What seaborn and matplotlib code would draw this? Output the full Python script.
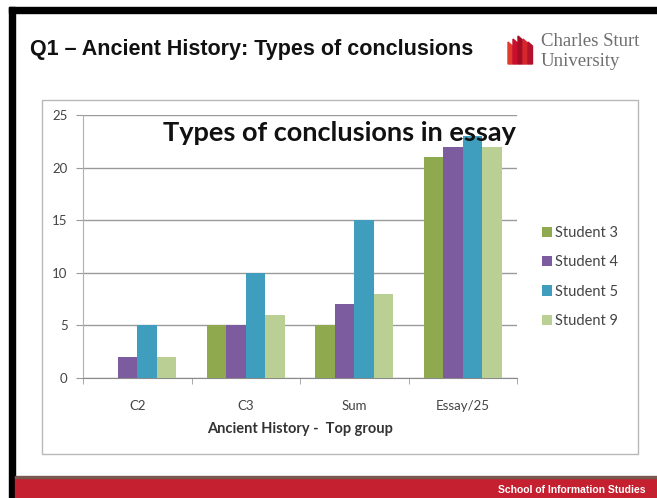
import matplotlib
matplotlib.use("Agg")
import matplotlib.pyplot as plt
from matplotlib.patches import Rectangle, Polygon
from matplotlib.ticker import FixedLocator
import seaborn as sns
import pandas as pd

# data
categories = ["C2", "C3", "Sum", "Essay/25"]
students = ["Student 3", "Student 4", "Student 5", "Student 9"]
student3 = [0, 5, 5, 21]
student4 = [2, 5, 7, 22]
student5 = [5, 10, 15, 23]
student9 = [2, 6, 8, 22]
colors = ["#8fa94e", "#7c5c9e", "#3f9ebd", "#bacf93"]

df = pd.DataFrame({
    "category": categories * 4,
    "student": [s for s in students for _ in categories],
    "value": student3 + student4 + student5 + student9,
})

plt.rcParams["font.family"] = ["Lato", "DejaVu Sans"]

W, H = 657, 498
fig = plt.figure(figsize=(W / 100, H / 100), dpi=100)
fig.patch.set_facecolor("white")


def fx(px):
    return px / W


def fy(py):
    return 1 - py / H


# slide frame: black border top / left, red footer
fig.patches.append(Rectangle((fx(9), fy(13)), 1, fy(7) - fy(13), transform=fig.transFigure,
                             color="black", zorder=0))
fig.patches.append(Rectangle((fx(9), 0), fx(6), fy(7), transform=fig.transFigure,
                             color="black", zorder=0))
fig.patches.append(Rectangle((fx(15), 0), 1, fy(477), transform=fig.transFigure,
                             color="#c4202f", zorder=1))
fig.patches.append(Rectangle((fx(15), fy(478)), 1, fy(476) - fy(478), transform=fig.transFigure,
                             color="#7a5a50", zorder=1))
fig.text(fx(646), fy(490), "School of Information Studies", color="white", fontsize=7.5,
         fontweight="bold", ha="right", va="center", family=["Liberation Sans", "DejaVu Sans"])

# slide title
fig.text(fx(30), fy(50), "Q1 \u2013 Ancient History: Types of conclusions", fontsize=15.5,
         fontweight="bold", ha="left", va="center", color="#111111",
         family=["Liberation Sans", "DejaVu Sans"])

# university logo (simple drawn mark + name)
reds = ["#e23a2e", "#c8102e", "#a50d25", "#d6262e", "#b3122a"]
xs = [508, 513, 518, 523, 528]
for i, (x0, c) in enumerate(zip(xs, reds)):
    top = 36 + abs(i - 2) * 3
    pts = [(fx(x0), fy(top)), (fx(x0 + 4.5), fy(top + 4)), (fx(x0 + 4.5), fy(64)),
           (fx(x0), fy(64))]
    fig.patches.append(Polygon(pts, closed=True, transform=fig.transFigure, color=c, zorder=2))
fig.text(fx(541), fy(42), "Charles Sturt", fontsize=13.5, color="#6e6e6e", ha="left",
         va="center", family=["Liberation Serif", "DejaVu Serif"])
fig.text(fx(541), fy(62), "University", fontsize=13.5, color="#6e6e6e", ha="left", va="center",
         family=["Liberation Serif", "DejaVu Serif"])

# chart border
fig.patches.append(Rectangle((fx(42), fy(454)), fx(638) - fx(42), fy(100) - fy(454),
                             transform=fig.transFigure, fill=False, edgecolor="#b8b8b8",
                             linewidth=1, zorder=1))

# plot area
ax = fig.add_axes([fx(83), fy(378), fx(517) - fx(83), fy(115) - fy(378)])
ax.set_facecolor("none")
sns.barplot(data=df, x="category", y="value", hue="student", order=categories,
            hue_order=students, palette=colors, width=0.72, gap=0, saturation=1,
            ax=ax, zorder=3)

ax.set_ylim(0, 25)
ax.set_xlim(-0.5, 3.5)
ax.set_yticks([0, 5, 10, 15, 20, 25])
ax.yaxis.grid(True, color="#9a9a9a", linewidth=1)
ax.set_axisbelow(True)
for s in ["top", "right"]:
    ax.spines[s].set_visible(False)
ax.spines["left"].set_color("#b0b0b0")
ax.spines["bottom"].set_color("#8a8a8a")
ax.tick_params(axis="y", length=5, color="#9a9a9a", labelsize=9.5, labelcolor="#444444", pad=6)
ax.tick_params(axis="x", which="major", length=0, labelsize=9.5, labelcolor="#444444", pad=16)
ax.xaxis.set_minor_locator(FixedLocator([-0.5, 0.5, 1.5, 2.5, 3.5]))
ax.tick_params(axis="x", which="minor", length=4, color="#9a9a9a")
ax.set_ylabel("")
ax.set_xlabel("Ancient History -  Top group", fontsize=10.5, fontweight="bold",
              color="#333333", labelpad=7)

fig.text(fx(163), fy(141), "Types of conclusions in essay", fontsize=19.5, fontweight="bold",
         color="#111111", ha="left", va="baseline", zorder=5)

handles, labels = ax.get_legend_handles_labels()
ax.legend(handles, labels, loc="center left", bbox_to_anchor=(fx(542), fy(277)),
          bbox_transform=fig.transFigure, frameon=False, fontsize=10.5, handlelength=0.7,
          handleheight=0.7, handletextpad=0.2, labelspacing=1.05, borderpad=0,
          borderaxespad=0, labelcolor="#444444")

fig.savefig("out.png", dpi=100)
